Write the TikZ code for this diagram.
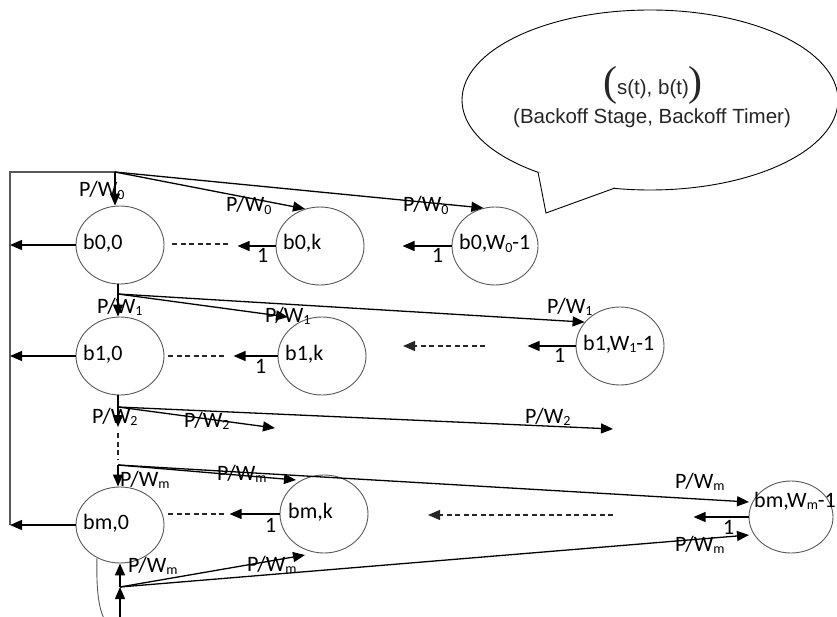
\documentclass[tikz,border=0pt]{standalone}
\usepackage{fontspec}
\setmainfont{Carlito}
\newfontfamily\arialf{Liberation Sans}
\newfontfamily\parenf{Liberation Serif}
\usetikzlibrary{arrows.meta,shapes.geometric}

% lowered, smaller index as used in the state names and probabilities
\newcommand{\sbs}[1]{\raisebox{-2.5pt}{\fontsize{14}{14}\selectfont #1}}

\tikzset{
  st/.style={ellipse, draw=black!65, line width=0.9pt, inner sep=0pt,
             minimum width=88pt, minimum height=78pt},
  arr/.style={draw=black, line width=1.3pt, -{Triangle[length=12pt,width=10pt]}},
  ln/.style={draw=black, line width=1.3pt},
  frameline/.style={draw=black!65, line width=1.3pt},
  dsh/.style={draw=black!85, line width=1.2pt, dash pattern=on 5pt off 3.5pt},
  txt/.style={font=\fontsize{22}{24}\selectfont, inner sep=0pt, text=black, anchor=base west},
}

\begin{document}
\begin{tikzpicture}[x=1pt, y=-1pt]
\useasboundingbox (0,0) rectangle (837,617);
\clip (0,0) rectangle (837,617);

% ---- speech bubble with the state description ----
\draw[black, line width=0.9pt, fill=white] (650,100) ellipse [x radius=188pt, y radius=90pt];
\fill[white] (538,172) -- (546,213) -- (615,188) -- cycle;
\draw[black, line width=0.9pt] (538,172) -- (546,213) -- (615,188);
\node[anchor=base, inner sep=0pt, text=black!85] (bt1) at (653,95)
  {\raisebox{-1pt}{\parenf\fontsize{42}{42}\selectfont(}\arialf\fontsize{20.5}{24}\selectfont s(t), b(t)\raisebox{-1pt}{\parenf\fontsize{42}{42}\selectfont)}};
\node[anchor=base, inner sep=0pt, text=black!85, font=\arialf\fontsize{20.5}{24}\selectfont] (bt2) at (652,124)
  {(Backoff Stage, Backoff Timer)};

% ---- states ----
\node[st] (b00) at (120,245) {};
\node[st] (b0k) at (320,246) {};
\node[st, minimum width=86pt] (b0W) at (495,246) {};
\node[st] (b10) at (120,356) {};
\node[st] (b1k) at (322,356) {};
\node[st] (b1W) at (620,346) {};
\node[st, minimum height=76pt] (bm0) at (120,525) {};
\node[st] (bmk) at (324,514) {};
\node[st, minimum width=84pt, minimum height=72pt] (bmW) at (791,517) {};

\node[txt] (tb00) at (83,250) {b0,0};
\node[txt] (tb0k) at (283,250) {b0,k};
\node[txt] (tb0W) at (459,250) {b0,W\sbs{0}-1};
\node[txt] (tb10) at (83,360) {b1,0};
\node[txt] (tb1k) at (285,360) {b1,k};
\node[txt] (tb1W) at (583,350) {b1,W\sbs{1}-1};
\node[txt] (tbm0) at (83,529) {bm,0};
\node[txt] (tbmk) at (288,518) {bm,k};
\node[txt] (tbmW) at (754,507) {bm,W\sbs{m}-1};

% ---- branch points and free arrow ends ----
\coordinate (c0) at (10,172);
\coordinate (t0) at (115,172);
\coordinate (t1) at (118,294);
\coordinate (t2) at (118,407);
\coordinate (tm) at (118,465);
\coordinate (tb) at (120,587);
\coordinate (bb) at (120,632);
\coordinate (h1k) at (288,317);
\coordinate (h2d) at (118,427);
\coordinate (h2a) at (275,428);
\coordinate (h2b) at (613,429);
\coordinate (hmk) at (296,480);
\coordinate (hmW) at (749,502);
\coordinate (hbk) at (305,555);
\coordinate (hbW) at (749,535);
\coordinate (d0) at (172,244);
\coordinate (d1) at (168,356);
\coordinate (d1s) at (485,346);
\coordinate (d1e) at (403,346);
\coordinate (dm) at (168,514);
\coordinate (dms) at (613,515);
\coordinate (dme) at (428,515);

% ---- feedback frame on the left ----
\draw[frameline] (t0) -- (c0) -- (c0 |- bm0.west);
\draw[arr] (b00.west) -- (b00.west -| c0);
\draw[arr] (b10.west) -- (b10.west -| c0);
\draw[arr] (bm0.west) -- (bm0.west -| c0);

% ---- stage 0 ----
\draw[arr] (t0) -- (t0 |- b00.north);
\draw[arr] (t0) -- (b0k.112);
\draw[arr] (t0) -- (b0W.107);
\node[txt] (p00) at (79,197) {P/W\sbs{0}};
\node[txt] (p0k) at (226,212) {P/W\sbs{0}};
\node[txt] (p0W) at (403,212) {P/W\sbs{0}};
\draw[dsh] (d0) -- ++(58,0);
\draw[arr] (b0k.west) -- ++(-38,0);
\draw[arr] (b0W.west) -- ++(-49,0);
\node[txt] (o0k) at (257,263) {1};
\node[txt] (o0W) at (432,263) {1};

% ---- stage 1 ----
\draw[ln] (b00.south -| t1) -- (t1);
\draw[arr] (t1) -- (t1 |- b10.north);
\draw[arr] (t1) -- (h1k);
\draw[arr] (t1) -- (b1W.146);
\node[txt] (p10) at (97,313) {P/W\sbs{1}};
\node[txt] (p1k) at (265,322) {P/W\sbs{1}};
\node[txt] (p1W) at (547,313) {P/W\sbs{1}};
\draw[dsh] (d1) -- ++(59,0);
\draw[arr] (b1k.west) -- ++(-44,0);
\draw[dsh, -{Triangle[length=12pt,width=10pt]}] (d1s) -- (d1e);
\draw[arr] (b1W.west) -- ++(-48,0);
\node[txt] (o1k) at (255,373) {1};
\node[txt] (o1W) at (554,362) {1};

% ---- stage 2 ----
\draw[ln] (b10.south -| t2) -- (t2);
\draw[arr] (t2) -- (h2d);
\draw[arr] (t2) -- (h2a);
\draw[arr] (t2) -- (h2b);
\node[txt] (p20) at (92,423) {P/W\sbs{2}};
\node[txt] (p2a) at (184,427) {P/W\sbs{2}};
\node[txt] (p2b) at (525,423) {P/W\sbs{2}};
\draw[dsh] ([yshift=-6pt]h2d) -- ([yshift=6pt]tm);

% ---- stage m ----
\draw[arr] (tm) -- (tm |- bm0.north);
\draw[arr] (tm) -- (hmk);
\draw[arr] (tm) -- (hmW);
\node[txt] (pm0) at (120,486) {P/W\sbs{m}};
\node[txt] (pmk) at (217,480) {P/W\sbs{m}};
\node[txt] (pmW) at (675,488) {P/W\sbs{m}};
\draw[dsh] (dm) -- ++(59,0);
\draw[arr] (bmk.west) -- ++(-50,0);
\draw[dsh, -{Triangle[length=12pt,width=10pt]}] (dms) -- (dme);
\draw[arr] (bmW.west) -- ++(-55,0);
\node[txt] (omk) at (265,532) {1};
\node[txt] (omW) at (723,534) {1};

% ---- re-entry into the last stage ----
\draw[arr] (tb) -- (tb |- bm0.south);
\draw[arr] (bb) -- (tb);
\draw[arr] (tb) -- (hbk);
\draw[arr] (tb) -- (hbW);
\draw[black!65, line width=0.9pt] (bm0.235) .. controls (96,600) and (100,628) .. (bb);
\node[txt] (pb0) at (128,572) {P/W\sbs{m}};
\node[txt] (pbk) at (247,571) {P/W\sbs{m}};
\node[txt] (pbW) at (675,551) {P/W\sbs{m}};
\end{tikzpicture}
\end{document}
